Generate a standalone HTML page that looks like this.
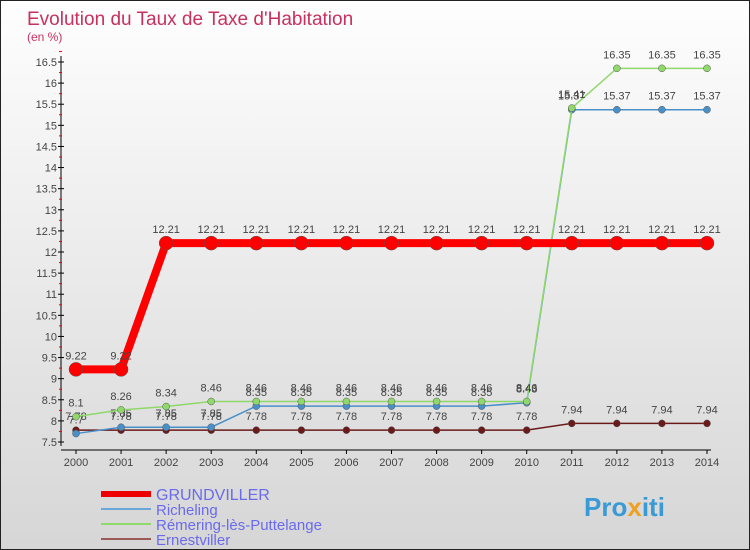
<!DOCTYPE html>
<html><head><meta charset="utf-8"><style>
body{margin:0;}
#wrap{width:748px;height:548px;border:1px solid #222;background:linear-gradient(#fefefe,#d6d6d6);position:relative;overflow:hidden;font-family:"Liberation Sans",sans-serif;}
</style></head><body>
<div id="wrap">
<svg id="chart" width="748" height="548">
<text x="26" y="24" font-size="19" fill="#c8305e">Evolution du Taux de Taxe d'Habitation</text>
<text x="26" y="40" font-size="12" fill="#c8305e">(en %)</text>
<g id="axes"></g><g id="series"></g>
<g>
<line x1="100" y1="493" x2="150" y2="493" stroke="#e00" stroke-width="6"/>
<text x="155" y="499" font-size="16" fill="#6a6aee">GRUNDVILLER</text>
<line x1="100" y1="508" x2="150" y2="508" stroke="#6aa6d6" stroke-width="2"/>
<text x="155" y="514" font-size="15" fill="#6a6aee">Richeling</text>
<line x1="100" y1="523" x2="150" y2="523" stroke="#8fd86a" stroke-width="2"/>
<text x="155" y="529" font-size="15" fill="#6a6aee">Rémering-lès-Puttelange</text>
<line x1="100" y1="538" x2="150" y2="538" stroke="#9a5a5a" stroke-width="2"/>
<text x="155" y="544" font-size="15" fill="#6a6aee">Ernestviller</text>
</g>
<text x="583" y="515" font-size="26" font-weight="bold" fill="#3a9ad6">Pro<tspan fill="#f0a020">x</tspan>iti</text>
</svg></div>
<script>
const years=[2000,2001,2002,2003,2004,2005,2006,2007,2008,2009,2010,2011,2012,2013,2014];
const grund=[9.22,9.22,12.21,12.21,12.21,12.21,12.21,12.21,12.21,12.21,12.21,12.21,12.21,12.21,12.21];
const riche=[7.7,7.85,7.85,7.85,8.35,8.35,8.35,8.35,8.35,8.35,8.43,15.37,15.37,15.37,15.37];
const remer=[8.1,8.26,8.34,8.46,8.46,8.46,8.46,8.46,8.46,8.46,8.46,15.41,16.35,16.35,16.35];
const ernest=[7.78,7.78,7.78,7.78,7.78,7.78,7.78,7.78,7.78,7.78,7.78,7.94,7.94,7.94,7.94];
const yTicks=[7.5,8,8.5,9,9.5,10,10.5,11,11.5,12,12.5,13,13.5,14,14.5,15,15.5,16,16.5];
const NS="http://www.w3.org/2000/svg";
const xS=y=>75+(y-2000)*(631/14);
const yS=v=>441-(v-7.5)*(380/9);
function mk(t,a,p){const e=document.createElementNS(NS,t);for(const k in a)e.setAttribute(k,a[k]);p.appendChild(e);return e;}
const ax=document.getElementById('axes');
const yl=mk('line',{x1:60,y1:55,x2:60,y2:445,stroke:'#000'},ax);


const xl=mk('line',{x1:60,y1:449,x2:710,y2:449,stroke:'#000'},ax);


yTicks.forEach(v=>{
 mk('line',{x1:57,y1:yS(v),x2:63,y2:yS(v),stroke:'#000'},ax);
 mk('line',{x1:58,y1:yS(v+0.25),x2:61,y2:yS(v+0.25),stroke:'#e00'},ax);
 const t=mk('text',{x:56,y:yS(v)+4,'font-size':11,fill:'#444','text-anchor':'end'},ax);
 t.textContent=String(v);
 
 
});
years.forEach(y=>{
 mk('line',{x1:xS(y),y1:449,x2:xS(y),y2:453,stroke:'#000'},ax);
 const t=mk('text',{x:xS(y),y:465,'font-size':11,fill:'#444','text-anchor':'middle'},ax);
 t.textContent=String(y);
 
 
});
const sg=document.getElementById('series');
function series(vals,color,w,r,name){
 const g=mk('g',{},sg);
 
 
 mk('polyline',{points:vals.map((v,i)=>xS(years[i])+','+yS(v)).join(' '),fill:'none',stroke:color,'stroke-width':w},g);
 vals.forEach((v,i)=>{
  const c=mk('circle',{cx:xS(years[i]),cy:yS(v),r:r,fill:color,stroke:'#555','stroke-width':0.5},g);
  
  
  const t=mk('text',{x:xS(years[i]),y:yS(v)-10,'font-size':11,fill:'#444','text-anchor':'middle'},g);
  t.textContent=String(v);
  
  
 });
}
series(ernest,'#6b1a1a',1.5,3.5,'ernestviller');
series(riche,'#4a90c8',1.5,3.5,'richeling');
series(remer,'#8fd86a',1.5,3.5,'remering');
series(grund,'#f00',8,7,'grundviller');
</script>
</body></html>
